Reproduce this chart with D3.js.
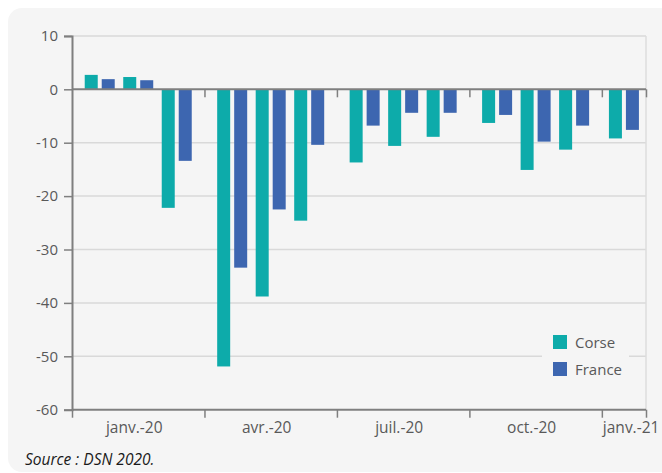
<!DOCTYPE html>
<html>
<head>
<meta charset="utf-8">
<script src="https://cdn.jsdelivr.net/npm/d3@7"></script>
<style>
  html, body { margin: 0; padding: 0; background: #ffffff; }
  svg { display: block; font-family: "Open Sans", "Noto Sans", sans-serif; }
</style>
</head>
<body>
<svg id="chart" width="662" height="473"></svg>
<script>
// ---- Data ----
const months = ["janv.-20","févr.-20","mars-20","avr.-20","mai-20","juin-20","juil.-20","août-20","sept.-20","oct.-20","nov.-20","déc.-20","janv.-21"];
const quarterLabels = ["janv.-20","avr.-20","juil.-20","oct.-20","janv.-21"];
const seriesNames = ["Corse","France"];
const corse  = [2.7, 2.3, -22.2, -51.9, -38.8, -24.6, -13.7, -10.6, -8.9, -6.3, -15.1, -11.3, -9.2];
const france = [1.9, 1.7, -13.4, -33.4, -22.5, -10.4, -6.8, -4.4, -4.4, -4.8, -9.8, -6.8, -7.6];
const yTicks = [10, 0, -10, -20, -30, -40, -50, -60];
const colors = ["#0dabaa", "#3d66b0"];
const sourceText = "Source : DSN 2020.";

(function () {
// ---- Layout ----
const svg = d3.select("#chart");
const pLeft = 72, pRight = 646, pTop = 35.9, pBottom = 409.7;

// card background
svg.append("rect").attr("x", 8).attr("y", 8).attr("width", 670).attr("height", 464)
  .attr("rx", 14).attr("fill", "#f5f5f5");

const y = d3.scaleLinear().domain([-60, 10]).range([pBottom, pTop]);
const nQ = months.length / 3;
const xq = d3.scaleLinear().domain([0, nQ]).range([pLeft, pRight]);

// quarter groups
const quarters = quarterLabels.map((lab, q) => {
  const ms = months.map((m, i) => i).filter(i => Math.floor(i / 3) === q);
  const x0 = xq(q), x1 = xq(Math.min(q + 1, nQ));
  const inner = d3.scaleBand().domain(ms).range([x0, x1]).paddingOuter(0.22).paddingInner(0);
  return { lab, q, ms, x0, x1, inner };
});
const monthCenter = i => {
  const Q = quarters[Math.floor(i / 3)];
  return Q.inner(i) + Q.inner.bandwidth() / 2;
};
const sub = d3.scaleBand().domain(seriesNames).range([-15, 15]).paddingInner(0.235).paddingOuter(0);

// gridlines
const grid = svg.append("g");
grid.selectAll("line").data(yTicks.filter(v => v !== 0 && v !== -60)).join("line")
  .attr("x1", pLeft).attr("x2", pRight)
  .attr("y1", d => y(d)).attr("y2", d => y(d))
  .attr("stroke", "#d9d9d9").attr("stroke-width", 1.5);
// right border
svg.append("line").attr("x1", pRight).attr("x2", pRight).attr("y1", pTop).attr("y2", pBottom)
  .attr("stroke", "#dcdcdc").attr("stroke-width", 1.5);

// bars
const data = [corse, france];
seriesNames.forEach((s, k) => {
  svg.append("g").selectAll("rect").data(data[k]).join("rect")
    .attr("x", (d, i) => monthCenter(i) + sub(s))
    .attr("width", sub.bandwidth())
    .attr("y", d => y(Math.max(0, d)))
    .attr("height", d => Math.abs(y(d) - y(0)))
    .attr("fill", colors[k]);
});

const axisColor = "#7f7f7f";
const textColor = "#595959";

// y axis
const yAxis = svg.append("g").attr("transform", `translate(${pLeft},0)`)
  .call(d3.axisLeft(y).tickValues(yTicks).tickSize(8).tickPadding(6).tickFormat(d => String(d)));
yAxis.select(".domain").attr("stroke", axisColor).attr("stroke-width", 2);
yAxis.selectAll(".tick line").attr("stroke", axisColor).attr("stroke-width", 1.5);
yAxis.selectAll(".tick text").attr("fill", textColor).style("font-size", "15px")
  .style("font-family", "'Open Sans', sans-serif");

// zero line with quarter ticks
const bounds = quarters.map(Q => Q.x1);
const xb = d3.scaleLinear().domain([pLeft, pRight]).range([pLeft, pRight]);
const zeroAxis = svg.append("g").attr("transform", `translate(0,${y(0)})`)
  .call(d3.axisBottom(xb).tickValues(bounds).tickSize(8).tickFormat(""));
zeroAxis.select(".domain").attr("stroke", axisColor).attr("stroke-width", 2).attr("d", `M${pLeft},0H${pRight}`);
zeroAxis.selectAll(".tick line").attr("stroke", axisColor).attr("stroke-width", 1.5);

// bottom axis
const botAxis = svg.append("g").attr("transform", `translate(0,${y(-60)})`)
  .call(d3.axisBottom(xb).tickValues([pLeft].concat(bounds)).tickSize(8).tickFormat(""));
botAxis.select(".domain").attr("stroke", axisColor).attr("stroke-width", 2).attr("d", `M${pLeft},0H${pRight}`);
botAxis.selectAll(".tick line").attr("stroke", axisColor).attr("stroke-width", 1.5);

// quarter labels
svg.append("g").selectAll("text").data(quarters).join("text")
  .attr("x", Q => Q.ms.length === 3 ? (Q.x0 + Q.x1) / 2 - 4 : Q.x0 + 1)
  .attr("y", y(-60) + 23)
  .attr("text-anchor", Q => Q.ms.length === 3 ? "middle" : "start")
  .attr("fill", textColor).style("font-size", "15.5px")
  .text(Q => Q.lab);

// legend
const lg = svg.append("g");
lg.append("rect").attr("x", 542).attr("y", 328).attr("width", 87).attr("height", 56).attr("fill", "#f5f5f5");
seriesNames.forEach((s, k) => {
  lg.append("rect").attr("x", 553).attr("y", 335 + k * 27).attr("width", 14).attr("height", 14).attr("fill", colors[k]);
  lg.append("text").attr("x", 575).attr("y", 348 + k * 27).attr("fill", textColor)
    .style("font-size", "15px").text(s);
});

// source
svg.append("text").attr("x", 25).attr("y", 465).attr("fill", "#1a1a1a")
  .style("font-size", "15.5px").style("font-style", "italic").text(sourceText);
})();
</script>
</body>
</html>
